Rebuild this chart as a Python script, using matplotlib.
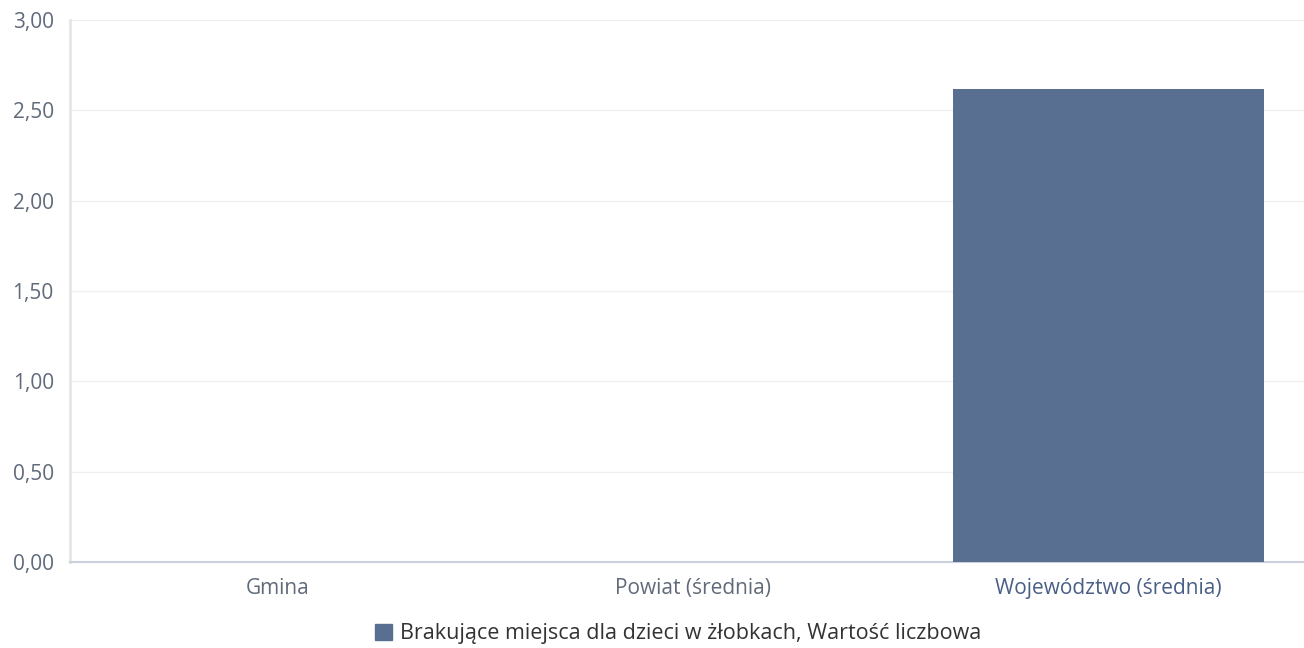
import matplotlib.pyplot as plt
from matplotlib.patches import Patch

plt.rcParams['font.family'] = ['Open Sans', 'DejaVu Sans']

categories = ['Gmina', 'Powiat (średnia)', 'Województwo (średnia)']
values = [0.0, 0.0, 2.62]
yticks = [0, 0.5, 1.0, 1.5, 2.0, 2.5, 3.0]
ytick_labels = ['0,00', '0,50', '1,00', '1,50', '2,00', '2,50', '3,00']
series_name = 'Brakujące miejsca dla dzieci w żłobkach, Wartość liczbowa'

bar_color = '#596f92'
text_color = '#606a7a'

fig = plt.figure(figsize=(13.04, 6.48), dpi=100)
ax = fig.add_axes([0.054, 0.133, 0.955, 0.836])

x = range(len(categories))
ax.bar(x, values, width=0.75, color=bar_color, zorder=3)

ax.set_xlim(-0.5, 2.5)
ax.set_ylim(0, 3.0)
ax.set_yticks(yticks)
ax.set_yticklabels(ytick_labels)
ax.set_xticks(list(x))
ax.set_xticklabels(categories)
ax.tick_params(axis='both', length=0, labelsize=15, colors=text_color)
ax.tick_params(axis='y', pad=12)
ax.tick_params(axis='x', pad=12)
ax.get_xticklabels()[2].set_color('#4a5f85')

ax.grid(axis='y', color='#f0f0f0', lw=1, zorder=0)
for s in ['top', 'right']:
    ax.spines[s].set_visible(False)
ax.spines['left'].set_color('#e6e6e6')
ax.spines['left'].set_linewidth(2)
ax.spines['bottom'].set_color('#ccd0dc')
ax.spines['bottom'].set_linewidth(1.5)

handle = Patch(facecolor=bar_color, edgecolor=bar_color)
fig.legend([handle], [series_name], loc='center', bbox_to_anchor=(0.52, 0.022),
           frameon=False, fontsize=15.5, handlelength=0.8, handleheight=0.8,
           handletextpad=0.4, labelcolor='#333333')

fig.savefig('out.png', dpi=100)
